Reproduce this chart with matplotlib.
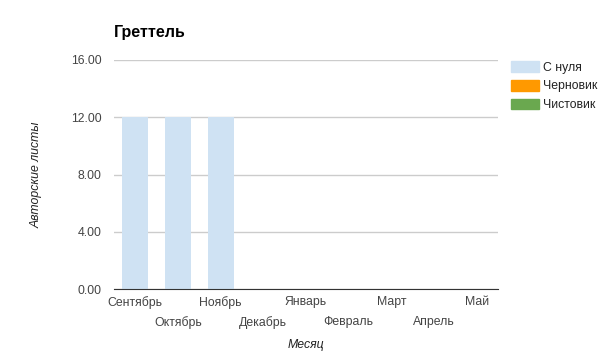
import numpy as np
import matplotlib
matplotlib.use("Agg")
from matplotlib import pyplot as plt
from matplotlib.patches import Patch

plt.rcParams['font.family'] = ['Liberation Sans', 'DejaVu Sans']

months = ['Сентябрь', 'Октябрь', 'Ноябрь', 'Декабрь', 'Январь',
          'Февраль', 'Март', 'Апрель', 'Май']
from_scratch = [12, 12, 12, 0, 0, 0, 0, 0, 0]
draft = [0, 0, 0, 0, 0, 0, 0, 0, 0]
clean = [0, 0, 0, 0, 0, 0, 0, 0, 0]
series_names = ['С нуля', 'Черновик', 'Чистовик']
colors = ['#cfe2f3', '#ff9900', '#6aa84f']

fig = plt.figure(figsize=(6.05, 3.53), dpi=100)
fig.patch.set_facecolor('white')
ax = fig.add_axes([114 / 605, 1 - 289 / 353, 384 / 605, 229 / 353])

x = np.arange(len(months))
bottom = np.zeros(len(months))
for vals, c in zip([from_scratch, draft, clean], colors):
    ax.bar(x, vals, width=0.61, bottom=bottom, color=c, zorder=2)
    bottom += np.array(vals)

ax.set_xlim(-0.5, len(months) - 0.5)
ax.set_ylim(0, 16)
ax.set_yticks([0, 4, 8, 12, 16])
ax.set_yticklabels(['%.2f' % v for v in [0, 4, 8, 12, 16]])
ax.yaxis.grid(True, color='#cccccc', lw=1, zorder=0)
ax.set_xticks(x)
ax.set_xticklabels(months)
for i, lab in enumerate(ax.get_xticklabels()):
    if i % 2 == 1:
        lab.set_y(-0.088)
ax.tick_params(length=0, labelsize=8.8, colors='#444444', pad=5)
ax.tick_params(axis='y', pad=9)
for s in ['top', 'right', 'left']:
    ax.spines[s].set_visible(False)
ax.spines['bottom'].set_color('#333333')
ax.spines['bottom'].set_zorder(3)

ax.set_xlabel('Месяц', fontsize=8.8, style='italic', color='#222222', labelpad=7)
ax.set_ylabel('Авторские листы', fontsize=8.8, style='italic', color='#222222', labelpad=20)
fig.text(114 / 605, 1 - 33 / 353, 'Греттель', fontsize=11.5, fontweight='bold',
         va='center', ha='left')

handles = [Patch(facecolor=c, edgecolor=c) for c in colors]
fig.legend(handles, series_names, loc='upper left', bbox_to_anchor=(500 / 605, 1 - 50 / 353),
           frameon=False, fontsize=8.8, handlelength=2.3, handleheight=1.0,
           labelspacing=0.5, handletextpad=0.35, labelcolor='#222222')

fig.savefig('out.png', dpi=100, facecolor='white')
